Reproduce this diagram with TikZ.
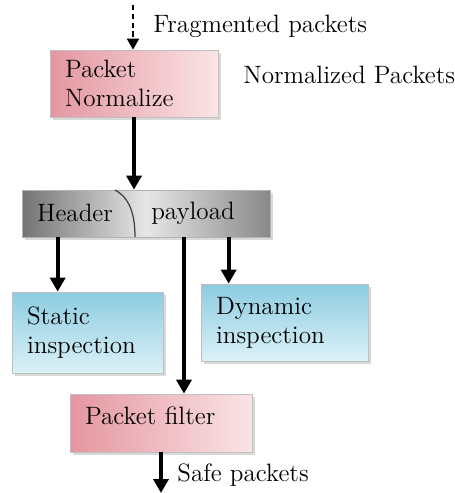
\documentclass[tikz,border=0pt]{standalone}
\usepackage{tikz}
\usetikzlibrary{positioning}
\usetikzlibrary{arrows.meta}
\usetikzlibrary{shadows}

\definecolor{pinkdark}{RGB}{228,150,160}
\definecolor{pinklight}{RGB}{250,228,230}
\definecolor{bluedark}{RGB}{140,204,224}
\definecolor{bluelight}{RGB}{220,241,248}
\definecolor{bardark}{RGB}{115,115,115}
\definecolor{barlight}{RGB}{230,230,230}

\begin{document}
\begin{tikzpicture}[
                x=0.02cm, y=-0.02cm,
                box/.style = {
                    draw=gray!50,
                    line width=0.4pt,
                    align=left,
                    text width=#1,
                    inner xsep=0.3cm,
                    inner ysep=0pt,
                    font=\fontsize{14.3}{16.5}\selectfont,
                    drop shadow={shadow xshift=1.5pt, shadow yshift=-1.5pt, opacity=0.3}
                },
                box/.default = 2.5cm,
                pinkbox/.style = {box=#1, left color=pinkdark, right color=pinklight},
                bluebox/.style = {box=#1, top color=bluedark, bottom color=bluelight},
                txt/.style = {font=\fontsize{14.3}{16.5}\selectfont, inner sep=0pt, anchor=west},
                arr/.style = {line width=2.2pt, -{Triangle[length=2.8mm, width=3mm]}},
                dasharr/.style = {line width=1.1pt, dash pattern=on 3pt off 2pt, -{Triangle[length=2.2mm, width=2.4mm]}}
            ]
            \useasboundingbox (0,0) rectangle (455,493);
            % 
            \node[pinkbox=2.76cm, minimum height=1.34cm] (norm) at (134,83.5) {Packet\\Normalize};
            \node[txt] (frag) at (153,26) {Fragmented packets};
            \node[txt] (normp) at (243,75) {Normalized Packets};
            % 
            \node[draw=gray!60, line width=0.4pt, minimum width=4.96cm, minimum height=0.94cm,
                  left color=bardark, right color=bardark!85, middle color=barlight,
                  drop shadow={shadow xshift=1.5pt, shadow yshift=-1.5pt, opacity=0.3}] (bar) at (146,213.5) {};
            \node[txt, anchor=center] (header) at (75,213) {Header};
            \node[txt, anchor=center] (payload) at (193,213) {payload};
            \draw[line width=0.7pt, black!75] (115,190) .. controls (130,198) and (135,215) .. (135,237);
            % 
            \node[bluebox=2.42cm, minimum height=1.62cm] (static) at (87.5,332.5) {Static\\inspection};
            \node[bluebox=2.74cm, minimum height=1.54cm] (dyn) at (284.5,322.5) {Dynamic\\inspection};
            % 
            \node[pinkbox=3.04cm, minimum height=1.16cm, text depth=0.3cm] (filter) at (161,423) {Packet filter};
            \node[txt] (safe) at (177,475) {Safe packets};
            % 
            \coordinate (in) at (133,5);
            \coordinate (out) at (163,493);
            \draw[dasharr] (in) -- (in |- norm.north);
            \draw[arr] (norm.south) -- (norm.south |- bar.north);
            \draw[arr] ([xshift=0.72cm]bar.south west) coordinate (h) -- (h |- static.north);
            \draw[arr] ([xshift=0.76cm]bar.south) coordinate (p) -- (p |- filter.north);
            \draw[arr] ([xshift=0.56cm]dyn.north west |- bar.south) coordinate (d) -- (d |- dyn.north);
            \draw[arr] (filter.south) -- (filter.south |- out);
            % 
        \end{tikzpicture}
\end{document}
